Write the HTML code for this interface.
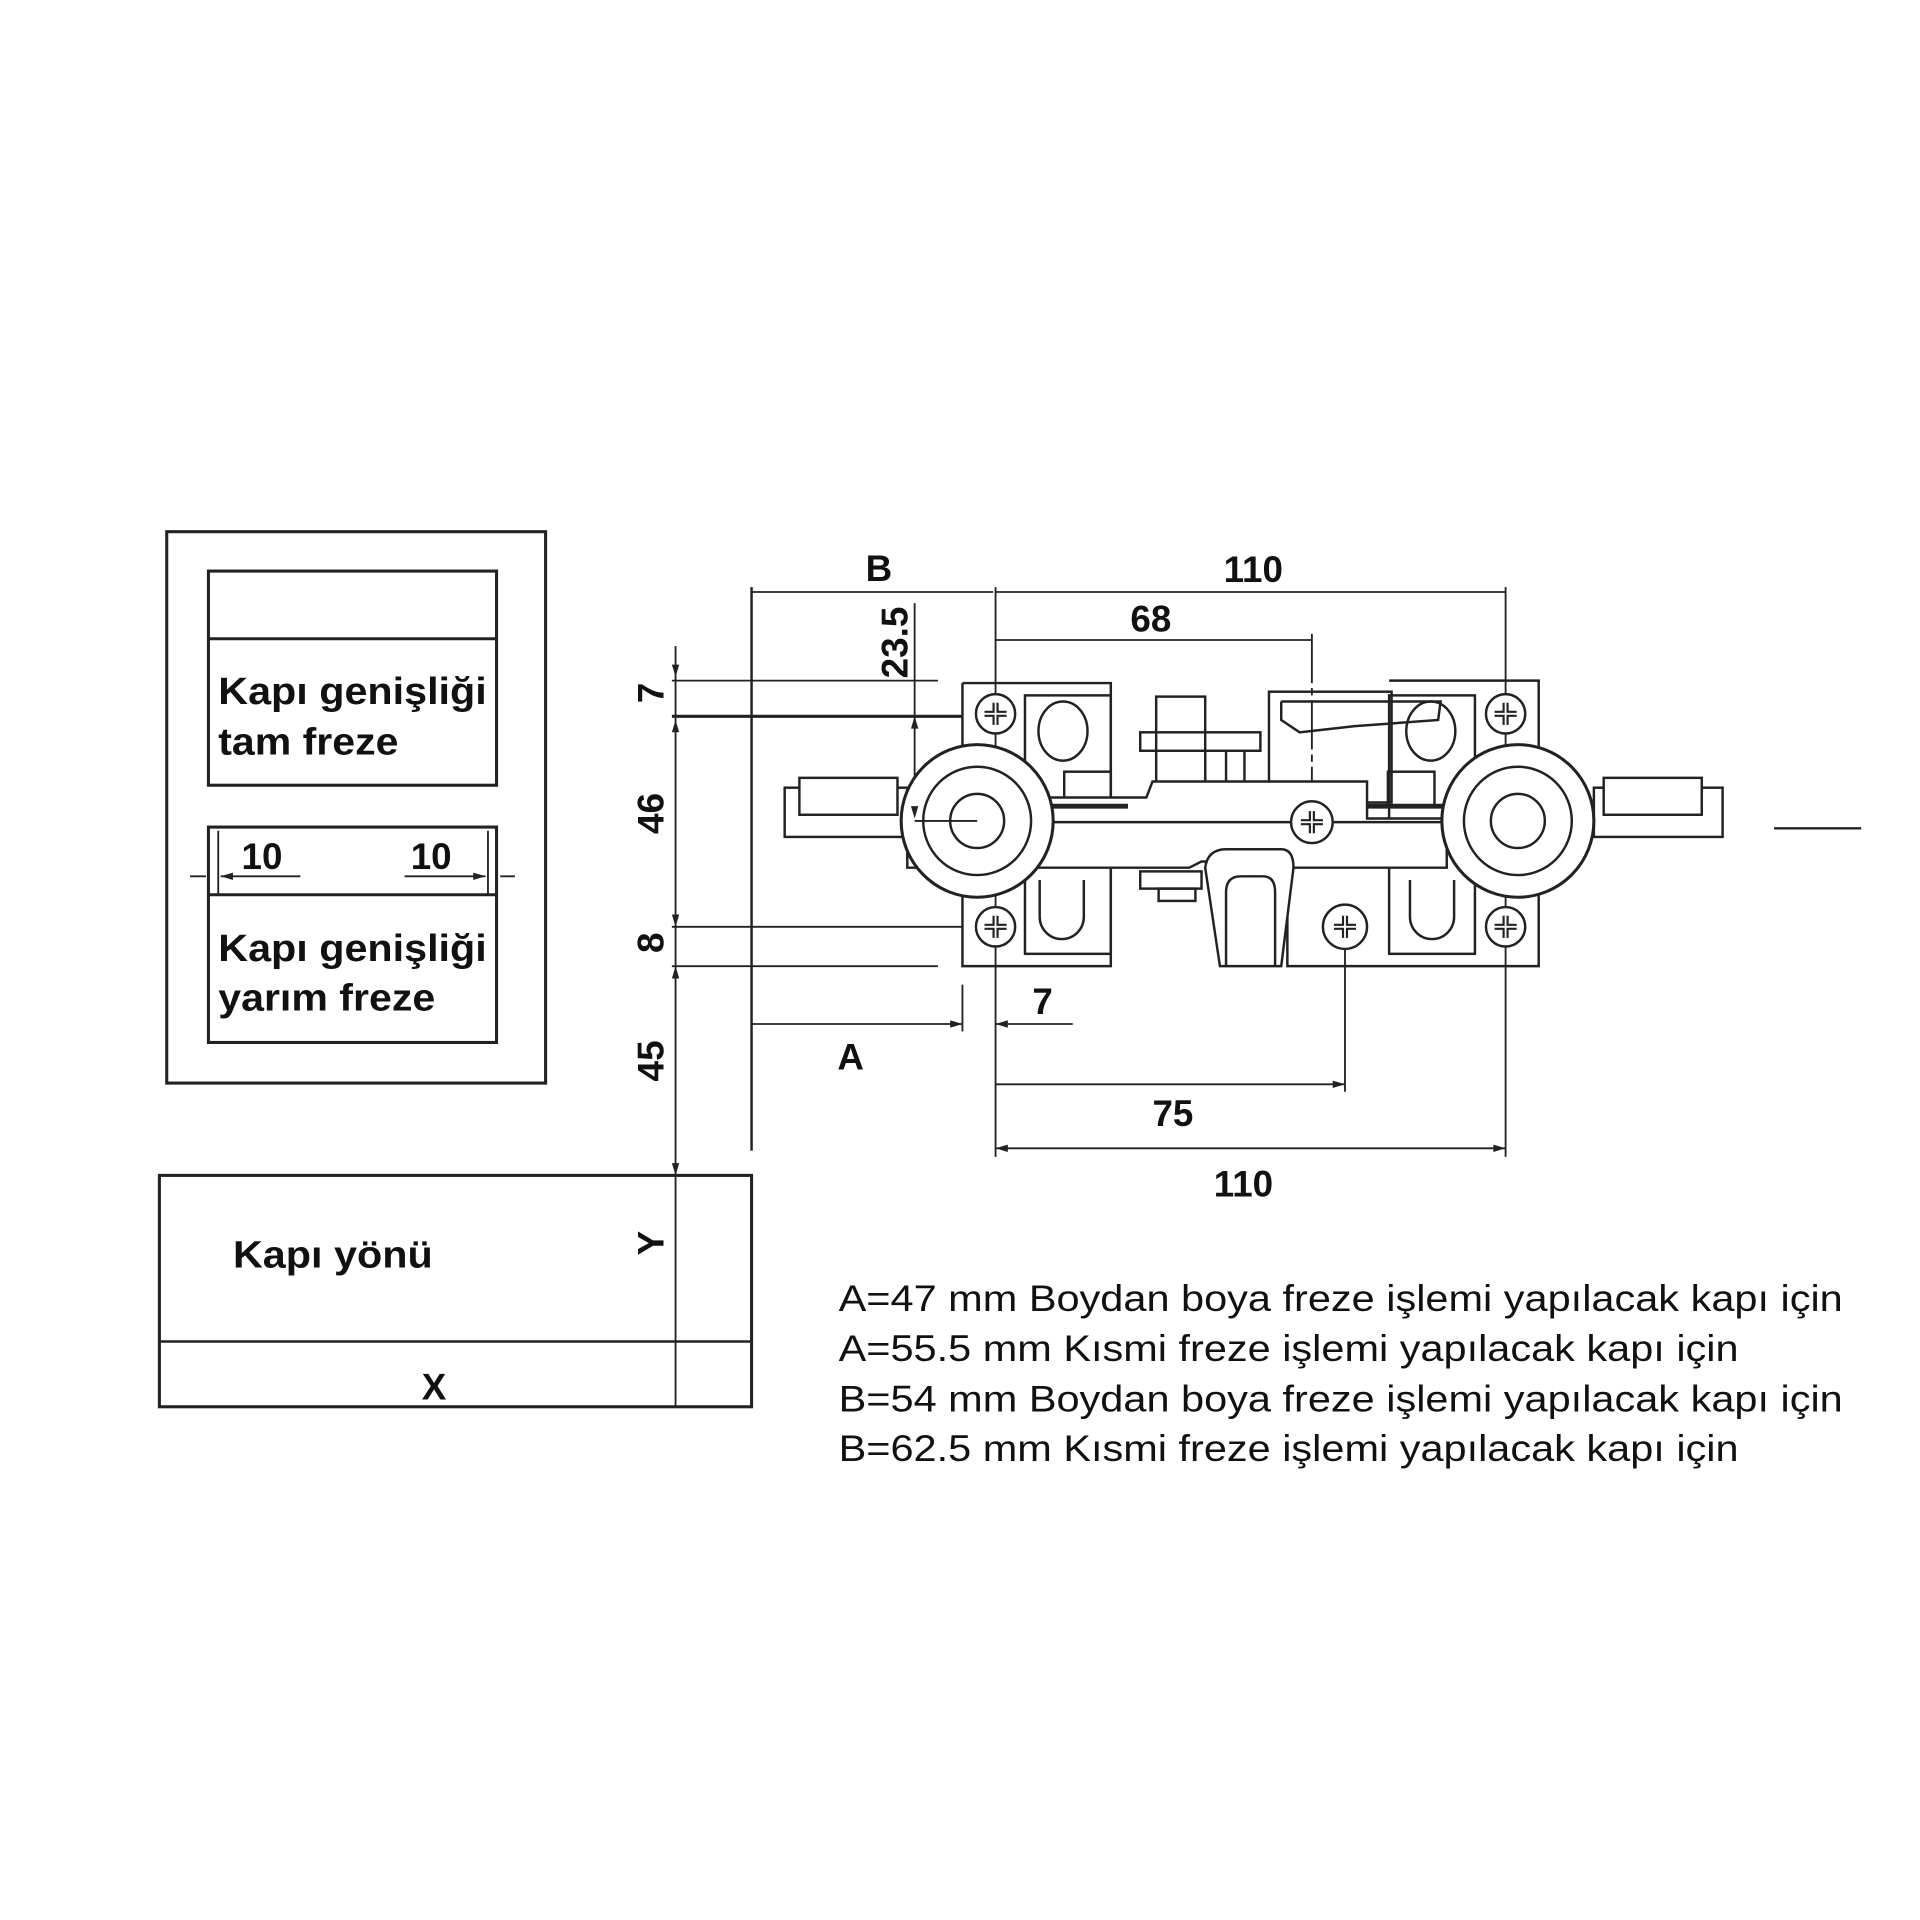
<!DOCTYPE html>
<html><head><meta charset="utf-8"><style>
html,body{margin:0;padding:0;background:#fff;}
svg{display:block}
text{font-family:"Liberation Sans",sans-serif;fill:#111}
</style></head><body>
<svg width="1920" height="1920" viewBox="0 0 1566 1560" preserveAspectRatio="none" xmlns="http://www.w3.org/2000/svg">
<g fill="none" stroke="#222" stroke-width="2">
<rect x="136" y="432" width="309" height="448" stroke-width="2.5"/>
<rect x="170" y="464" width="235" height="174" stroke-width="2.5"/>
<line x1="170" y1="519" x2="405" y2="519" stroke-width="2.5"/>
<rect x="170" y="672" width="235" height="175" stroke-width="2.5"/>
<line x1="170" y1="727" x2="405" y2="727" stroke-width="2.5"/>
<line x1="178" y1="675" x2="178" y2="727" stroke-width="1.5"/>
<line x1="398" y1="675" x2="398" y2="727" stroke-width="1.5"/>
<line x1="155" y1="712" x2="168" y2="712" stroke-width="1.5"/>
<line x1="180" y1="712" x2="245" y2="712" stroke-width="1.5"/>
<line x1="330" y1="712" x2="396" y2="712" stroke-width="1.5"/>
<line x1="408" y1="712" x2="420" y2="712" stroke-width="1.5"/>
<rect x="130" y="955" width="483" height="188" stroke-width="2.5"/>
<line x1="130" y1="1090" x2="613" y2="1090" stroke-width="2"/>
<line x1="551" y1="525" x2="551" y2="1143" stroke-width="1.5"/>
<line x1="613" y1="477" x2="613" y2="935" stroke-width="2"/>
<line x1="548" y1="553" x2="765" y2="553" stroke-width="1.5"/>
<line x1="548" y1="582" x2="785" y2="582" stroke-width="2.5"/>
<line x1="548" y1="753" x2="785" y2="753" stroke-width="1.5"/>
<line x1="548" y1="785" x2="765" y2="785" stroke-width="1.5"/>
<line x1="613" y1="481" x2="810" y2="481" stroke-width="1.5"/>
<line x1="812" y1="481" x2="1228" y2="481" stroke-width="1.5"/>
<line x1="812" y1="477" x2="812" y2="940" stroke-width="1.5"/>
<line x1="1228" y1="477" x2="1228" y2="940" stroke-width="1.5"/>
<line x1="812" y1="520" x2="1070" y2="520" stroke-width="1.5"/>
<line x1="1070" y1="515" x2="1070" y2="680" stroke-width="1.5" stroke-dasharray="40 4 6 4"/>
<line x1="746" y1="490" x2="746" y2="665" stroke-width="1.5"/>
<line x1="613" y1="832" x2="785" y2="832" stroke-width="1.5"/>
<line x1="785" y1="800" x2="785" y2="838" stroke-width="1.5"/>
<line x1="812" y1="832" x2="875" y2="832" stroke-width="1.5"/>
<line x1="812" y1="881" x2="1097" y2="881" stroke-width="1.5"/>
<line x1="1097" y1="755" x2="1097" y2="887" stroke-width="1.5"/>
<line x1="812" y1="933" x2="1228" y2="933" stroke-width="1.5"/>
<line x1="1447" y1="673" x2="1518" y2="673" stroke-width="2"/>
<polyline points="785,555 906,555 906,785 785,785 785,555"/>
<rect x="836" y="565" width="70" height="210"/>
<polyline points="1133,553 1255,553 1255,785 1050,785 1050,720"/>
<rect x="1133" y="565" width="70" height="210"/>
<rect x="1035" y="562" width="100" height="90"/>
<rect x="943" y="566" width="40" height="80"/>
<rect x="930" y="595" width="98" height="15"/>
<line x1="983" y1="610" x2="983" y2="646"/><line x1="1000" y1="610" x2="1000" y2="646"/><line x1="1015" y1="610" x2="1015" y2="646"/>
<polyline points="1045,570 1175,570 1173,585 1105,590 1060,595 1045,585 1045,570"/>
<ellipse cx="867" cy="594" rx="20" ry="24"/>
<ellipse cx="1167" cy="594" rx="20" ry="24"/>
<path d="M848 715 v30 a18 18 0 0 0 36 0 v-30"/>
<path d="M1150 715 v30 a18 18 0 0 0 36 0 v-30"/>
<rect x="868" y="627" width="38" height="28"/>
<rect x="1132" y="627" width="38" height="28"/>
<path d="M740 648 L900 648 L935 648 L940 635 L1115 635 L1115 665 L1180 665 L1180 705 L1050 705 L1035 700 L980 700 L970 705 L740 705 Z" fill="#fff"/>
<line x1="740" y1="668" x2="1180" y2="668"/>
<line x1="855" y1="655" x2="920" y2="655" stroke-width="4"/>
<line x1="1115" y1="655" x2="1180" y2="655" stroke-width="4"/>
<rect x="930" y="708" width="50" height="14"/>
<rect x="945" y="722" width="30" height="10"/>
<path d="M983 705 Q985 690 1000 690 L1045 690 Q1055 690 1055 705 L1045 785 L995 785 Z" fill="#fff"/>
<path d="M1000 785 L1000 725 Q1000 712 1012 712 L1030 712 Q1040 712 1040 725 L1040 785"/>
<rect x="640" y="640" width="100" height="40" fill="#fff"/>
<rect x="652" y="632" width="80" height="30" fill="#fff"/>
<rect x="1300" y="640" width="105" height="40" fill="#fff"/>
<rect x="1308" y="632" width="80" height="30" fill="#fff"/>
<circle cx="797" cy="667" r="62" fill="#fff" stroke-width="2.5"/>
<circle cx="797" cy="667" r="44" stroke-width="2"/>
<circle cx="797" cy="667" r="22" stroke-width="2"/>
<circle cx="1238" cy="667" r="62" fill="#fff" stroke-width="2.5"/>
<circle cx="1238" cy="667" r="44" stroke-width="2"/>
<circle cx="1238" cy="667" r="22" stroke-width="2"/>
<line x1="746" y1="667" x2="797" y2="667" stroke-width="1.5"/>
<g fill="#fff" stroke-width="2">
<circle cx="812" cy="580" r="16"/><circle cx="812" cy="753" r="16"/>
<circle cx="1228" cy="580" r="16"/><circle cx="1228" cy="753" r="16"/>
<circle cx="1070" cy="668" r="17"/><circle cx="1097" cy="753" r="18"/>
</g>
<g stroke-width="5">
<path d="M812 571v18M803 580h18"/><path d="M812 744v18M803 753h18"/>
<path d="M1228 571v18M1219 580h18"/><path d="M1228 744v18M1219 753h18"/>
<path d="M1070 659v18M1061 668h18"/><path d="M1097 744v18M1088 753h18"/>
</g>
<g stroke="#fff" stroke-width="1.5">
<path d="M812 571v18M803 580h18"/><path d="M812 744v18M803 753h18"/>
<path d="M1228 571v18M1219 580h18"/><path d="M1228 744v18M1219 753h18"/>
<path d="M1070 659v18M1061 668h18"/><path d="M1097 744v18M1088 753h18"/>
</g>
</g>
<g fill="#222">
<polygon points="551,550 548,540 554,540"/>
<polygon points="551,585 548,595 554,595"/>
<polygon points="551,753 548,743 554,743"/>
<polygon points="551,785 548,795 554,795"/>
<polygon points="551,955 548,945 554,945"/>
<polygon points="396,712 386,709 386,715"/>
<polygon points="180,712 190,709 190,715"/>
<polygon points="785,832 775,829 775,835"/>
<polygon points="812,832 822,829 822,835"/>
<polygon points="1097,881 1087,878 1087,884"/>
<polygon points="1228,933 1218,930 1218,936"/>
<polygon points="812,933 822,930 822,936"/>
<polygon points="746,582 743,592 749,592"/>
<polygon points="746,665 743,655 749,655"/>
</g>
<g font-weight="bold" font-size="31">
<text x="178" y="572" textLength="219" lengthAdjust="spacingAndGlyphs">Kapı genişliği</text>
<text x="178" y="613" textLength="147" lengthAdjust="spacingAndGlyphs">tam freze</text>
<text x="178" y="781" textLength="219" lengthAdjust="spacingAndGlyphs">Kapı genişliği</text>
<text x="178" y="821" textLength="177" lengthAdjust="spacingAndGlyphs">yarım freze</text>
<text x="190" y="1030" textLength="163" lengthAdjust="spacingAndGlyphs">Kapı yönü</text>
</g>
<g font-weight="bold" font-size="30">
<text x="197" y="706">10</text>
<text x="335" y="706">10</text>
<text x="344" y="1137">X</text>
<text x="706" y="472">B</text>
<text x="998" y="473">110</text>
<text x="922" y="513">68</text>
<text x="683" y="869">A</text>
<text x="842" y="824">7</text>
<text x="940" y="915">75</text>
<text x="990" y="972">110</text>
<text transform="translate(541,1010) rotate(-90)" text-anchor="middle">Y</text>
<text transform="translate(541,563) rotate(-90)" text-anchor="middle">7</text>
<text transform="translate(541,661) rotate(-90)" text-anchor="middle">46</text>
<text transform="translate(541,766) rotate(-90)" text-anchor="middle">8</text>
<text transform="translate(541,862) rotate(-90)" text-anchor="middle">45</text>
<text transform="translate(740,522) rotate(-90)" text-anchor="middle">23.5</text>
</g>
<g font-size="30">
<text x="684" y="1065" textLength="819" lengthAdjust="spacingAndGlyphs">A=47 mm Boydan boya freze işlemi yapılacak kapı için</text>
<text x="684" y="1106" textLength="734" lengthAdjust="spacingAndGlyphs">A=55.5 mm Kısmi freze işlemi yapılacak kapı için</text>
<text x="684" y="1147" textLength="819" lengthAdjust="spacingAndGlyphs">B=54 mm Boydan boya freze işlemi yapılacak kapı için</text>
<text x="684" y="1187" textLength="734" lengthAdjust="spacingAndGlyphs">B=62.5 mm Kısmi freze işlemi yapılacak kapı için</text>
</g>
</svg>
</body></html>
